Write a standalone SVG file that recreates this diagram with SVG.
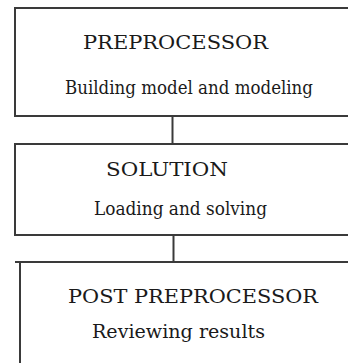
<svg xmlns="http://www.w3.org/2000/svg" width="348" height="363" viewBox="0 0 348 363">
<style>
.box{fill:#fff;stroke:#3a3a3a;stroke-width:2}
.ln{fill:none;stroke:#3a3a3a;stroke-width:2}
.t{font-family:"DejaVu Serif","Liberation Serif",serif;fill:#1a1a1a}
.h{font-size:19px}
.s{font-size:19px}
</style>
<rect width="348" height="363" fill="#fff"/>
<g id="connectors">
<line class="ln" x1="172.5" y1="116" x2="172.5" y2="144"/>
<line class="ln" x1="173.5" y1="235" x2="173.5" y2="262"/>
</g>
<g id="preprocessor">
<path class="box" d="M350 8 H15 V116 H350"/>
<text class="t h" x="83" y="49" textLength="185" lengthAdjust="spacingAndGlyphs">PREPROCESSOR</text>
<text class="t s" x="65" y="94" textLength="248" lengthAdjust="spacingAndGlyphs">Building model and modeling</text>
</g>
<g id="solution">
<path class="box" d="M350 144 H15 V235 H350"/>
<text class="t h" x="106" y="176" textLength="122" lengthAdjust="spacingAndGlyphs">SOLUTION</text>
<text class="t s" x="94" y="215" textLength="173" lengthAdjust="spacingAndGlyphs">Loading and solving</text>
</g>
<g id="postprocessor">
<path class="ln" d="M15 262 H350 M20 262 V365"/>
<text class="t h" x="68" y="303" textLength="250" lengthAdjust="spacingAndGlyphs">POST PREPROCESSOR</text>
<text class="t s" x="92" y="338" textLength="173" lengthAdjust="spacingAndGlyphs">Reviewing results</text>
</g>
</svg>
